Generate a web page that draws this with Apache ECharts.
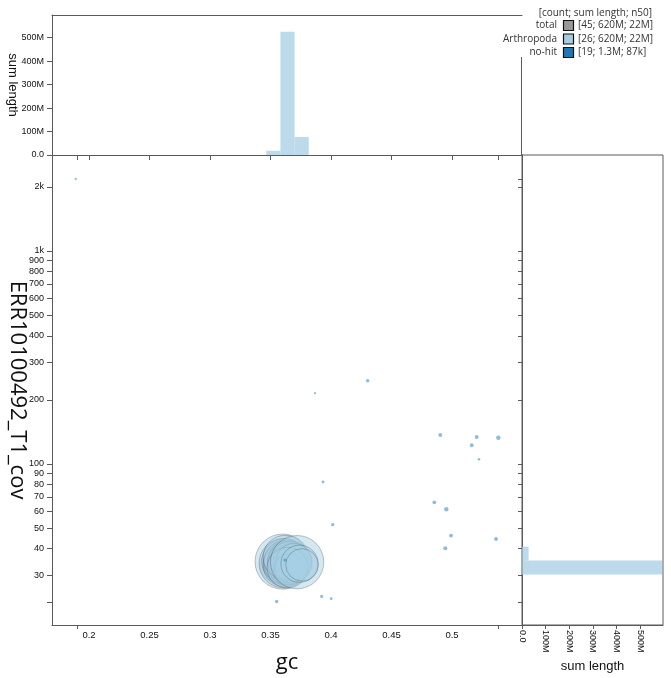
<!DOCTYPE html>
<html>
<head>
<meta charset="utf-8">
<script src="https://cdn.jsdelivr.net/npm/echarts@6/dist/echarts.min.js"></script>
<style>
html, body { margin: 0; padding: 0; background: #fff; }
#main { width: 671px; height: 678px; }
</style>
</head>
<body>
<div id="main"></div>
<script>
// Arthropoda contigs (gc, coverage, length in Mb)
var arthGc = [0.356, 0.360, 0.361, 0.3615, 0.362, 0.3625, 0.363, 0.3635, 0.364, 0.3645, 0.365, 0.3655, 0.366,
  0.3665, 0.367, 0.3675, 0.368, 0.3685, 0.369, 0.362, 0.3695, 0.366, 0.364, 0.372, 0.374, 0.376];
var arthCov = [33.5, 34.8, 34.2, 34.9, 33.6, 34.6, 34.4, 33.4, 35.0, 33.9, 34.5, 33.7, 35.1,
  34.0, 34.8, 33.5, 34.6, 33.0, 34.3, 36.5, 35.0, 32.0, 32.6, 34.6, 34.0, 33.6];
var arthLen = [18, 45, 36, 30, 28, 26, 30, 21, 23, 20, 25, 19, 22,
  18, 24, 17, 21, 16, 20, 28, 18, 14, 24, 42, 20, 15];

// no-hit contigs
var noHitGc = [0.189, 0.3868, 0.4303, 0.3934, 0.4014, 0.362, 0.3551, 0.3923, 0.4002, 0.4903,
  0.5204, 0.5163, 0.5383, 0.5223, 0.4854, 0.4953, 0.4992, 0.4945, 0.5364];
var noHitCov = [2178, 215, 246, 82.3, 51.9, 35.4, 22.6, 23.9, 23.3, 136.8,
  133.9, 122.4, 132.9, 105.2, 66.1, 61.3, 46.1, 40.2, 44.4];
var noHitLen = [0.01, 0.008, 0.07, 0.03, 0.055, 0.045, 0.06, 0.04, 0.025, 0.085,
  0.09, 0.087, 0.14, 0.02, 0.075, 0.13, 0.08, 0.1, 0.095];

// gc histogram (top panel), sum length in Mb
var gcBinStart = [0.3465, 0.3582, 0.3699];
var gcBinEnd = [0.3582, 0.3699, 0.3816];
var gcBinLen = [18, 525, 77];

// coverage histogram (right panel), sum length in Mb
var covBinStart = [30.3, 35.2];
var covBinEnd = [35.2, 40.9];
var covBinLen = [592, 28];

// ticks
var gcLabels = [0.2, 0.25, 0.3, 0.35, 0.4, 0.45, 0.5];
var gcExtent = [0.19, 0.538];
var covLabels = [30, 40, 50, 60, 70, 80, 90, 100, 200, 300, 400, 500, 600, 700, 800, 900, 1000, 2000];
var covExtent = [22.5, 2178];
var lenLabels = [0, 100, 200, 300, 400, 500];

var legendNames = ['total', 'Arthropoda', 'no-hit'];
var legendStats = ['[45; 620M; 22M]', '[26; 620M; 22M]', '[19; 1.3M; 87k]'];
var legendColors = ['#999999', '#a6cee3', '#1f78b4'];

var axisCol = '#5a5a5a';
var labelFont = 'Liberation Sans';
var histColor = 'rgba(166,206,227,0.75)';

function lg(v) { return Math.log10(v); }
function covFmt(v) {
  var c = Math.round(Math.pow(10, v));
  return c >= 1000 ? (c / 1000) + 'k' : String(c);
}
function lenFmt(v) { return v === 0 ? '0.0' : v + 'M'; }
function dotSize(d) { return 1.5 + 8 * Math.sqrt(d[2]); }

var gcMin = 0.16942, gcMax = 0.55785;
var lcMin = lg(17.54), lcMax = lg(2823);
var lenMax = 596;

var gcTicks = [gcExtent[0]].concat(gcLabels, [gcExtent[1]]);
var covLabelsLog = covLabels.map(lg);
var covTicksMain = [lg(covExtent[0])].concat(covLabelsLog);
var covTicksRight = covTicksMain.concat([lg(covExtent[1])]);

var arthData = arthGc.map(function (g, i) { return [g, lg(arthCov[i]), arthLen[i]]; });
var noHitData = noHitGc.map(function (g, i) { return [g, lg(noHitCov[i]), noHitLen[i]]; });
var gcHist = gcBinStart.map(function (s, i) { return [s, gcBinEnd[i], gcBinLen[i]]; });
var covHist = covBinStart.map(function (s, i) { return [lg(s), lg(covBinEnd[i]), covBinLen[i]]; });

var tickLbl = { fontFamily: labelFont, fontSize: 9, color: '#111', margin: 8 };

var graphic = [
  { type: 'line', shape: { x1: 521.5, y1: 57, x2: 521.5, y2: 155 }, style: { stroke: axisCol, lineWidth: 1 } },
  { type: 'text', x: 652, y: 13, style: { text: '[count; sum length; n50]', font: '10px "Open Sans"', fill: '#333', align: 'right', verticalAlign: 'middle' } }
];
legendNames.forEach(function (n, i) {
  var yc = 25.5 + i * 13.5;
  graphic.push({ type: 'text', x: 557, y: yc, style: { text: n, font: '10px "Open Sans"', fill: '#333', align: 'right', verticalAlign: 'middle' } });
  graphic.push({ type: 'rect', shape: { x: 563.5, y: yc - 5, width: 10, height: 10 }, style: { fill: legendColors[i], stroke: '#111', lineWidth: 1.2 } });
  graphic.push({ type: 'text', x: 578, y: yc, style: { text: legendStats[i], font: '10px "Open Sans"', fill: '#333', align: 'left', verticalAlign: 'middle' } });
});

var chart = echarts.init(document.getElementById('main'));
chart.setOption({
  animation: false,
  graphic: graphic,
  grid: [
    { left: 52, top: 155, width: 470, height: 470, outerBoundsMode: 'none', containLabel: false },
    { left: 52, top: 15, width: 470, height: 140, outerBoundsMode: 'none', containLabel: false },
    { left: 522, top: 155, width: 141, height: 470, outerBoundsMode: 'none', containLabel: false, show: true, borderColor: axisCol, borderWidth: 1 }
  ],
  xAxis: [
    {
      gridIndex: 0, type: 'value', min: gcMin, max: gcMax,
      axisLine: { lineStyle: { color: axisCol } },
      axisTick: { length: 4, customValues: gcExtent, lineStyle: { color: axisCol } },
      axisLabel: { customValues: gcLabels, margin: 5, fontFamily: labelFont, fontSize: 9.5, color: '#111' },
      splitLine: { show: false },
      name: 'gc', nameLocation: 'middle', nameGap: 27,
      nameTextStyle: { fontFamily: 'Open Sans', fontSize: 22, color: '#111' }
    },
    {
      gridIndex: 1, type: 'value', min: gcMin, max: gcMax, position: 'bottom',
      axisLine: { lineStyle: { color: axisCol } },
      axisTick: { length: 5, customValues: gcTicks, lineStyle: { color: axisCol } },
      axisLabel: { show: false },
      splitLine: { show: false }
    },
    {
      gridIndex: 2, type: 'value', min: 0, max: lenMax,
      axisLine: { lineStyle: { color: axisCol } },
      axisTick: { length: 4, customValues: lenLabels, lineStyle: { color: axisCol } },
      axisLabel: Object.assign({}, tickLbl, { customValues: lenLabels, rotate: -90, formatter: lenFmt, margin: 5 }),
      splitLine: { show: false },
      name: 'sum length', nameLocation: 'middle', nameGap: 31,
      nameTextStyle: { fontFamily: labelFont, fontSize: 13, color: '#111' }
    },
    {
      gridIndex: 1, type: 'value', min: gcMin, max: gcMax, position: 'top',
      axisLine: { lineStyle: { color: axisCol } },
      axisTick: { show: false }, axisLabel: { show: false }, splitLine: { show: false }
    }
  ],
  yAxis: [
    {
      gridIndex: 0, type: 'value', min: lcMin, max: lcMax,
      axisLine: { show: true, lineStyle: { color: axisCol } },
      axisTick: { show: true, length: 5, customValues: covTicksMain, lineStyle: { color: axisCol } },
      axisLabel: Object.assign({ customValues: covLabelsLog, formatter: covFmt }, tickLbl),
      splitLine: { show: false },
      name: 'ERR10100492_T1_cov', nameLocation: 'middle', nameGap: 24, nameRotate: -90,
      nameMoveOverlap: false,
      nameTextStyle: { fontFamily: 'Open Sans', fontSize: 22, color: '#111' }
    },
    {
      gridIndex: 1, type: 'value', min: 0, max: lenMax,
      axisLine: { show: true, lineStyle: { color: axisCol } },
      axisTick: { show: true, length: 5, customValues: lenLabels, lineStyle: { color: axisCol } },
      axisLabel: Object.assign({ customValues: lenLabels, formatter: lenFmt }, tickLbl),
      splitLine: { show: false },
      name: 'sum length', nameLocation: 'middle', nameGap: 33, nameRotate: -90,
      nameMoveOverlap: false,
      nameTextStyle: { fontFamily: labelFont, fontSize: 13, color: '#111' }
    },
    {
      gridIndex: 2, type: 'value', min: lcMin, max: lcMax, position: 'left',
      axisLine: { show: true, lineStyle: { color: axisCol } },
      axisTick: { show: true, length: 4, customValues: covTicksRight, lineStyle: { color: axisCol } },
      axisLabel: { show: false },
      splitLine: { show: false }
    }
  ],
  series: [
    {
      name: 'Arthropoda', type: 'scatter', xAxisIndex: 0, yAxisIndex: 0,
      data: arthData, symbolSize: dotSize,
      itemStyle: { color: 'rgba(166,206,227,0.6)', borderColor: 'rgba(70,70,70,0.4)', borderWidth: 1 }
    },
    {
      name: 'no-hit', type: 'scatter', xAxisIndex: 0, yAxisIndex: 0,
      data: noHitData, symbolSize: dotSize,
      itemStyle: { color: 'rgba(31,120,180,0.62)' }
    },
    {
      type: 'custom', xAxisIndex: 1, yAxisIndex: 1, data: gcHist,
      encode: { x: [0, 1], y: 2 },
      renderItem: function (params, api) {
        var p0 = api.coord([api.value(0), api.value(2)]);
        var p1 = api.coord([api.value(1), 0]);
        return { type: 'rect', shape: { x: p0[0], y: p0[1], width: p1[0] - p0[0], height: p1[1] - p0[1] }, style: { fill: histColor } };
      }
    },
    {
      type: 'custom', xAxisIndex: 2, yAxisIndex: 2, data: covHist,
      encode: { x: 2, y: [0, 1] },
      renderItem: function (params, api) {
        var p0 = api.coord([0, api.value(1)]);
        var p1 = api.coord([api.value(2), api.value(0)]);
        return { type: 'rect', shape: { x: p0[0], y: p0[1], width: p1[0] - p0[0], height: p1[1] - p0[1] }, style: { fill: histColor } };
      }
    }
  ]
});
</script>
</body>
</html>
